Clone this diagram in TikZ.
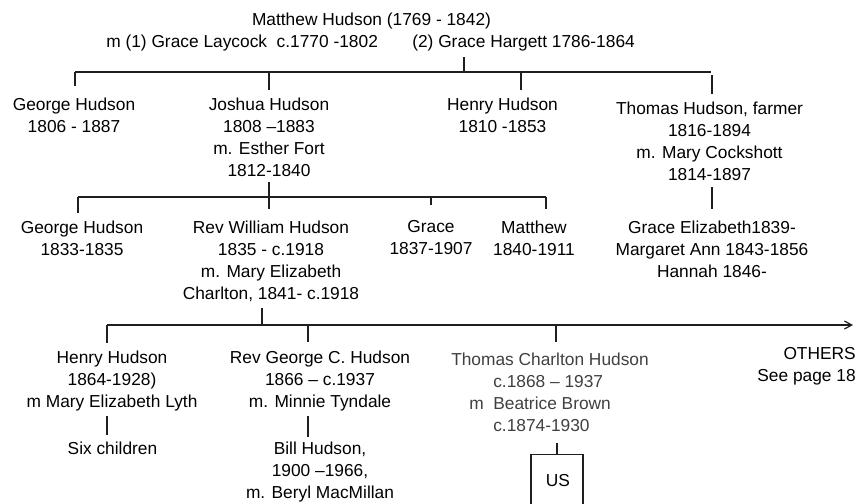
\documentclass[tikz,border=0pt]{standalone}
\usepackage{fontspec}
\setmainfont{Liberation Sans}
\usetikzlibrary{arrows.meta}
\definecolor{linecol}{rgb}{0.12,0.12,0.12}
\definecolor{softtext}{rgb}{0.25,0.25,0.25}
\begin{document}
\begin{tikzpicture}[x=0.75pt,y=-0.75pt,
  person/.style={inner sep=0pt, align=center, anchor=north,
    font=\fontsize{13}{16.6}\selectfont},
  label/.style={inner sep=0pt, font=\fontsize{13}{16.6}\selectfont},
  link/.style={draw=linecol, line width=0.9pt},
  boxnode/.style={draw=linecol, line width=0.9pt, inner sep=0pt,
    minimum width=39pt, minimum height=39pt, anchor=north,
    font=\fontsize{13}{16.6}\selectfont}]
\useasboundingbox (0,0) rectangle (858,504);
\clip (0,0) rectangle (858,504);

% ---- founding couple ----
\node[label, anchor=base] (matthew0) at (371.5,25) {Matthew Hudson (1769 - 1842)};
\node[label, anchor=base west] (wife1) at (106,47) {m (1) Grace Laycock\ \ c.1770 -1802};
\node[label, anchor=base west] (wife2) at (412,47) {(2) Grace Hargett 1786-1864};

% ---- first generation ----
\node[person] (george1) at (74,97.4) {George Hudson\\1806 - 1887};
\node[person] (joshua)  at (269,97.4) {Joshua Hudson\\1808 –1883\\m. Esther Fort\\1812-1840};
\node[person] (henry1)  at (502.5,97.4) {Henry Hudson\\1810 -1853};
\node[person] (thomas1) at (709.5,101.4) {Thomas Hudson, farmer\\1816-1894\\m. Mary Cockshott\\1814-1897};

% ---- second generation ----
\node[person] (george2) at (82,220.4) {George Hudson\\1833-1835};
\node[person] (william) at (271,220.4) {Rev William Hudson\\1835 - c.1918\\m. Mary Elizabeth\\Charlton, 1841- c.1918};
\node[person] (grace)   at (431,220.4) {Grace\\1837-1907};
\node[person] (matthew) at (534,220.4) {Matthew\\1840-1911};
\node[person] (tkids)   at (712,220.4) {Grace Elizabeth1839-\\Margaret Ann 1843-1856\\Hannah 1846-};

% ---- third generation ----
\node[person] (henry3)  at (112,350.4) {Henry Hudson\\1864-1928)\\m Mary Elizabeth Lyth};
\node[person] (george3) at (320,350.4) {Rev George C. Hudson\\1866 – c.1937\\m. Minnie Tyndale};
\node[person, align=left, anchor=north west, text=softtext] (thomas3) at (451,352.4)
  {Thomas Charlton Hudson\\\hspace*{31.5pt}c.1868 – 1937\\\hspace*{13.5pt}m\ \ Beatrice Brown\\\hspace*{31.5pt}c.1874-1930};
\node[person, align=right, anchor=north east] (others) at (856,347.4) {OTHERS\\See page 18};

% ---- fourth generation ----
\node[label, anchor=base] (six) at (112.5,454) {Six children};
\node[person] (bill) at (320,441.4) {Bill Hudson,\\1900 –1966,\\m. Beryl MacMillan};
\node[boxnode] (us) at (557,454) {};
\node[label, anchor=base] (ustext) at (558,486) {US};

% ---- junction points ----
\coordinate (p0) at (464,57);   \coordinate (p1) at (464,72);
\coordinate (b1l) at (75,72);   \coordinate (b1r) at (711,72);
\coordinate (d1a) at (75,86);
\coordinate (j1) at (269,72);   \coordinate (d1b) at (269,90);
\coordinate (h1) at (521,72);   \coordinate (d1c) at (521,90);
\coordinate (t1a) at (712,75);  \coordinate (t1b) at (712,94);

\coordinate (j2a) at (269,182); \coordinate (j2b) at (269,209);
\coordinate (b2l) at (78,197);  \coordinate (b2r) at (546,197);
\coordinate (d2a) at (78,213);
\coordinate (g2) at (431,197);  \coordinate (d2g) at (431,205);
\coordinate (d2m) at (546,209);
\coordinate (t2a) at (712,187); \coordinate (t2b) at (712,209);

\coordinate (w3a) at (262,308); \coordinate (w3b) at (262,325);
\coordinate (b3l) at (107,325); \coordinate (b3r) at (853,325);
\coordinate (d3a) at (107,343);
\coordinate (g3) at (308,325);  \coordinate (d3b) at (308,342);
\coordinate (t3) at (556,325);  \coordinate (d3c) at (556,342);
\coordinate (h3a) at (107,416); \coordinate (h3b) at (107,435);
\coordinate (r3a) at (308,416); \coordinate (r3b) at (308,437);
\coordinate (u3a) at (557,443);

% ---- connectors ----
\draw[link] (p0) -- (p1);
\draw[link] (b1l) -- (b1r);
\draw[link] (b1l) -- (d1a);
\draw[link] (j1) -- (d1b);
\draw[link] (h1) -- (d1c);
\draw[link] (t1a) -- (t1b);

\draw[link] (j2a) -- (j2b);
\draw[link] (b2l) -- (b2r);
\draw[link] (b2l) -- (d2a);
\draw[link] (g2) -- (d2g);
\draw[link] (b2r) -- (d2m);
\draw[link] (t2a) -- (t2b);

\draw[link] (w3a) -- (w3b);
\draw[link, -{Straight Barb[length=5.5pt,width=6pt]}] (b3l) -- (b3r);
\draw[link] (b3l) -- (d3a);
\draw[link] (g3) -- (d3b);
\draw[link] (t3) -- (d3c);
\draw[link] (h3a) -- (h3b);
\draw[link] (r3a) -- (r3b);
\draw[link] (u3a) -- (us.north);
\end{tikzpicture}
\end{document}
